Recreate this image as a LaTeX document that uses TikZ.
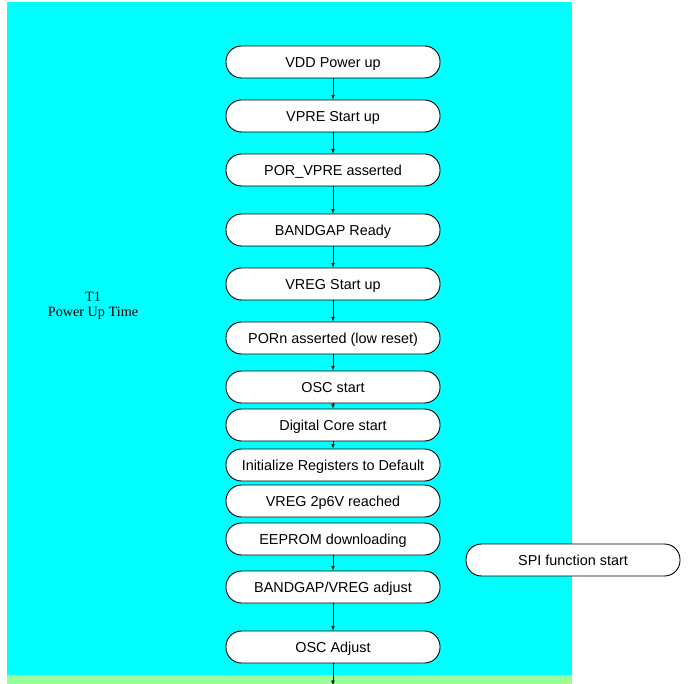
\documentclass[tikz,border=0pt]{standalone}
\usepackage{fontspec}
\setmainfont{Liberation Serif}
\setsansfont{Liberation Sans}
\usetikzlibrary{arrows.meta}
\definecolor{bgcyan}{RGB}{0,255,255}
\definecolor{bggreen}{RGB}{153,255,153}
\tikzset{
  stepbox/.style={shape=rectangle, rounded corners=15.5pt, draw=black, fill=white, line width=0.9pt,
    minimum width=214pt, minimum height=32pt, inner sep=0pt, text height=10.2pt, text depth=0pt,
    font=\fontsize{14.4}{16}\selectfont},
  >={Latex[length=4.5pt,width=3.5pt]}
}
\begin{document}
\begin{tikzpicture}[x=1pt, y=-1pt]
    \useasboundingbox (0,0) rectangle (693,684);
    \fill[bgcyan] (7,2) rectangle (572,675);
    \fill[bggreen] (7,675) rectangle (572,684);

    \node[align=center, font=\fontsize{14.2}{15.5}\selectfont] (T) at (93,306) {T1\\Power Up Time};

    \node[stepbox] (A) at (333,62) {\textsf{VDD Power up}};
    \node[stepbox] (B) at (333,116) {\textsf{VPRE Start up}};
    \node[stepbox] (C) at (333,170) {\textsf{POR\_VPRE asserted}};
    \node[stepbox] (D) at (333,230) {\textsf{BANDGAP Ready}};
    \node[stepbox] (E) at (333,284) {\textsf{VREG Start up}};
    \node[stepbox] (F) at (333,338) {\textsf{PORn asserted (low reset)}};
    \node[stepbox] (G) at (333,387) {\textsf{OSC start}};
    \node[stepbox] (H) at (333,425) {\textsf{Digital Core start}};
    \node[stepbox] (I) at (333,465) {\textsf{Initialize Registers to Default}};
    \node[stepbox] (J) at (333,501) {\textsf{VREG 2p6V reached}};
    \node[stepbox] (K) at (333,539) {\textsf{EEPROM downloading}};
    \node[stepbox] (L) at (333,587) {\textsf{BANDGAP/VREG adjust}};
    \node[stepbox] (M) at (333,647) {\textsf{OSC Adjust}};
    \node[stepbox] (S) at (573,560) {\textsf{SPI function start}};
    \coordinate (out) at (333,685);

    \path [->] (A) edge (B);
    \path [->] (B) edge (C);
    \path [->] (C) edge (D);
    \path [->] (D) edge (E);
    \path [->] (E) edge (F);
    \path [->] (F) edge (G);
    \path [->] (G) edge (H);
    \path [->] (H) edge (I);
    \path [->] (K) edge (L);
    \path [->] (L) edge (M);
    \path [->] (M) edge (out);
\end{tikzpicture}
\end{document}
